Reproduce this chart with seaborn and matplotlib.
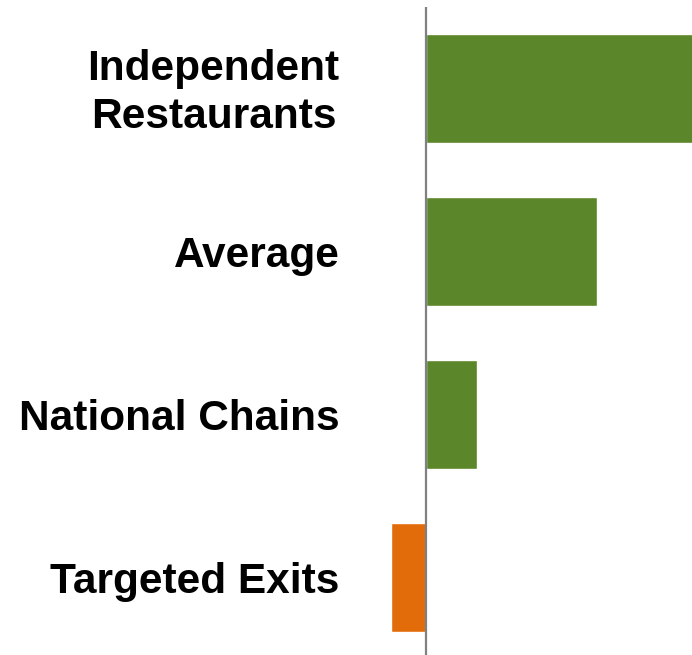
import matplotlib
matplotlib.use("Agg")
import matplotlib.pyplot as plt
import matplotlib.transforms as mtransforms
import seaborn as sns
import pandas as pd

categories = ["Independent\nRestaurants", "Average", "National Chains", "Targeted Exits"]
values = [7.8, 5.0, 1.5, -1.03]
colors = ["#5B8629", "#5B8629", "#5B8629", "#E36C0A"]

sns.set_theme(style="white")
plt.rcParams['font.family'] = ['Liberation Sans', 'DejaVu Sans']

df = pd.DataFrame({"category": categories, "value": values})

W, H = 692, 655
fig = plt.figure(figsize=(W / 100, H / 100), dpi=100)
ax_left, ax_right = 380, 692
ax_top, ax_bottom = 7, 655
ax = fig.add_axes([ax_left / W, 1 - ax_bottom / H, (ax_right - ax_left) / W, (ax_bottom - ax_top) / H])

sns.barplot(data=df, y="category", x="value", hue="category", palette=colors,
            orient="h", width=0.67, legend=False, ax=ax, saturation=1)

px_per_unit = 34.2
zero_px = 426
ax.set_xlim(-(zero_px - ax_left) / px_per_unit, (ax_right - zero_px) / px_per_unit)
ax.set_ylim(3 + (655 - 577.5) / 163, -(89 - 7) / 163)

ax.axvline(0, color="#808080", lw=1.6, zorder=5)
for s in ax.spines.values():
    s.set_visible(False)
ax.set_xticks([])
ax.set_xlabel("")
ax.set_ylabel("")
ax.tick_params(axis="y", length=0, pad=29)
labels = ax.get_yticklabels()
for lab in labels:
    lab.set_fontsize(30.5)
    lab.set_fontweight("bold")
    lab.set_color("black")
    lab.set_multialignment("center")
labels[0].set_linespacing(1.25)
labels[0].set_transform(labels[0].get_transform() +
                        mtransforms.ScaledTranslation(0, 4 / 100, fig.dpi_scale_trans))

fig.savefig("out.png", dpi=100)
